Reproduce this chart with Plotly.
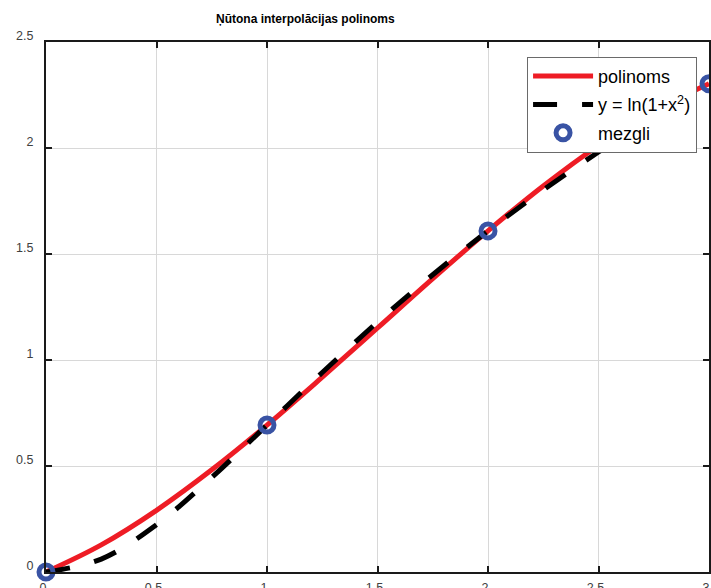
import plotly.graph_objects as go

x_vals = [0, 0.25, 0.5, 0.75, 1.0, 1.25, 1.5, 1.75, 2.0, 2.25, 2.5, 2.75, 3.0]
poly_vals = [0.0, 0.128, 0.291, 0.482, 0.693, 0.919, 1.151, 1.384, 1.609, 1.821, 2.012, 2.175, 2.303]
func_vals = [0.0, 0.061, 0.223, 0.446, 0.693, 0.941, 1.179, 1.402, 1.609, 1.802, 1.981, 2.147, 2.303]
node_x = [0, 1, 2, 3]
node_y = [0.0, 0.693, 1.609, 2.303]

x_ticks = [0, 0.5, 1, 1.5, 2, 2.5, 3]
x_ticklabels = ["0", "0.5", "1", "1.5", "2", "2.5", "3"]
y_ticks = [0, 0.5, 1, 1.5, 2, 2.5]
y_ticklabels = ["0", "0.5", "1", "1.5", "2", "2.5"]

fig = go.Figure()
fig.add_trace(go.Scatter(x=x_vals, y=poly_vals, mode="lines", name="polinoms", legendgroup="a",
                         line=dict(color="#ee1c25", width=5, shape="spline")))
fig.add_trace(go.Scatter(x=x_vals, y=func_vals, mode="lines", name="y = ln(1+x<sup>2</sup>)", legendgroup="b",
                         line=dict(color="black", width=5, dash="24px,25px", shape="spline")))
fig.add_trace(go.Scatter(x=node_x, y=node_y, mode="markers", name="mezgli", legendgroup="c",
                         marker=dict(symbol="circle-open", size=14, color="#3953a4",
                                     line=dict(width=5, color="#3953a4")),
                         cliponaxis=False))

axis_common = dict(showline=True, linecolor="#1a1a1a", linewidth=2, mirror="ticks",
                   ticks="inside", ticklen=6, tickwidth=2, tickcolor="#1a1a1a",
                   showgrid=True, gridcolor="#d8d8d8", gridwidth=1, zeroline=False,
                   automargin=False,
                   tickfont=dict(family="Liberation Sans, Arial, sans-serif", size=12.5, color="#404040"))

fig.update_xaxes(range=[0, 3], tickvals=x_ticks, ticktext=x_ticklabels,
                 ticklabelshift=-3, ticklabelstandoff=3, **axis_common)
fig.update_yaxes(range=[0, 2.5], tickvals=y_ticks, ticktext=y_ticklabels,
                 ticklabelshift=-6, ticklabelstandoff=8, **axis_common)

fig.update_layout(
    width=711, height=588,
    margin=dict(l=46, r=2, t=42, b=16),
    paper_bgcolor="white", plot_bgcolor="white",
    showlegend=True,
    legend=dict(x=0.982, y=0.972, xanchor="right", yanchor="top",
                bgcolor="white", bordercolor="#6a6a6a", borderwidth=1,
                font=dict(family="Liberation Sans, Arial, sans-serif", size=18, color="black"),
                itemwidth=60, tracegroupgap=2),
    annotations=[dict(text="<b>Ņūtona interpolācijas polinoms</b>", xref="paper", yref="paper",
                      x=0.392, y=1.0, yshift=23, xanchor="center", yanchor="middle",
                      showarrow=False,
                      font=dict(family="Liberation Sans, Arial, sans-serif", size=12, color="black"))],
)

fig.write_html("out.html")
